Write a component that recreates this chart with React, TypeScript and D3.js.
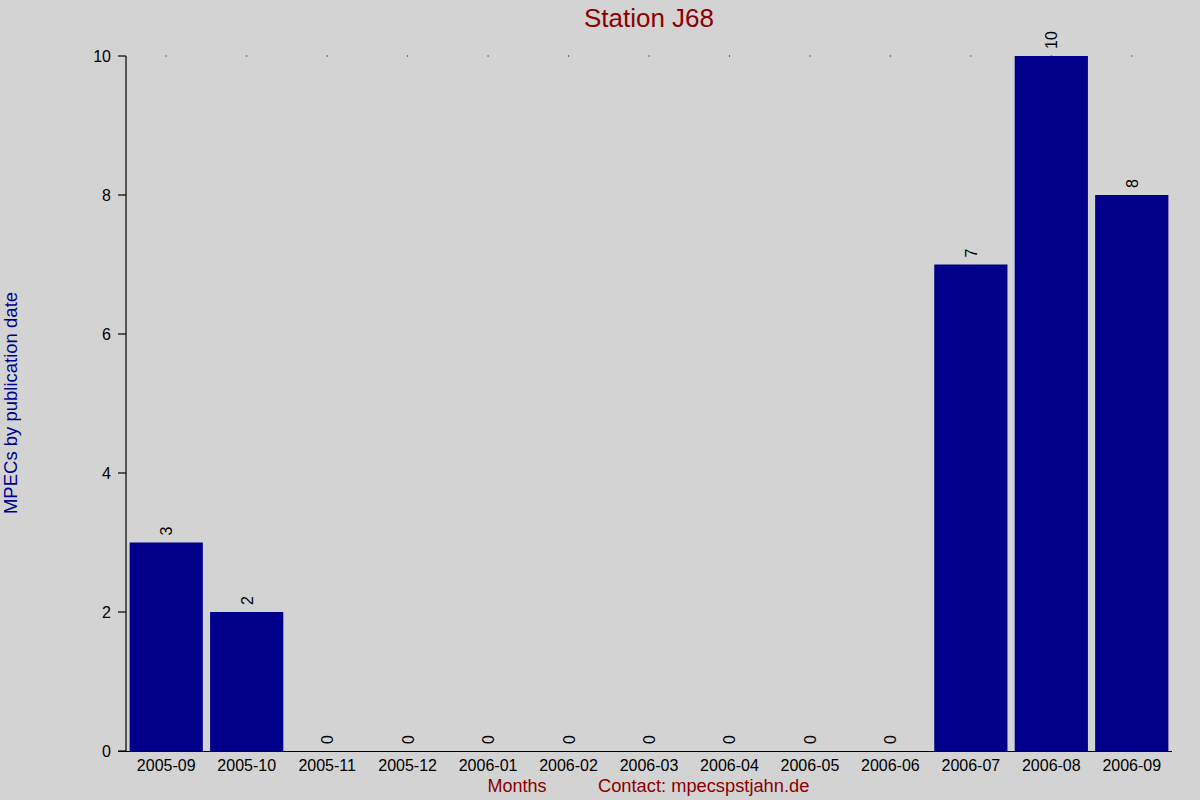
import React from 'react';
import * as d3 from 'd3';

const months = [
  '2005-09', '2005-10', '2005-11', '2005-12', '2006-01', '2006-02', '2006-03',
  '2006-04', '2006-05', '2006-06', '2006-07', '2006-08', '2006-09',
];
const mpecCounts = [3, 2, 0, 0, 0, 0, 0, 0, 0, 0, 7, 10, 8];
const yTicks = [0, 2, 4, 6, 8, 10];

const width = 1200;
const height = 800;
const margin = { top: 56, right: 28, bottom: 49, left: 126 };
const font = 'Liberation Sans, Arial, sans-serif';

const App: React.FC = () => {
  const innerWidth = width - margin.left - margin.right;
  const innerHeight = height - margin.top - margin.bottom;

  const x = d3.scaleBand<string>()
    .domain(months)
    .range([0, innerWidth])
    .paddingInner(0.09)
    .paddingOuter(0.045);
  const band = d3.scaleBand<string>().domain(months).range([0, innerWidth]);

  const y = d3.scaleLinear().domain([0, 10]).range([innerHeight, 0]);

  return (
    <svg
      width={width}
      height={height}
      style={{ position: 'absolute', left: 0, top: 0, background: '#d3d3d3', fontFamily: font }}
    >
      <rect width={width} height={height} fill="#d3d3d3" />
      <text x={649} y={27} textAnchor="middle" fontSize={26} fill="#8b0000">Station J68</text>

      <g transform={`translate(${margin.left},${margin.top})`}>
        {/* top dots */}
        {months.map(m => (
          <rect
            key={'dot' + m}
            x={(band(m) || 0) + band.bandwidth() / 2 - 0.5}
            y={y(10) - 0.5}
            width={1}
            height={1}
            fill="#000"
          />
        ))}

        {/* bars */}
        {months.map((m, i) => (
          <rect
            key={m}
            x={x(m)}
            y={y(mpecCounts[i])}
            width={x.bandwidth()}
            height={innerHeight - y(mpecCounts[i])}
            fill="#00008b"
          />
        ))}

        {/* value labels */}
        {months.map((m, i) => {
          const cx = (band(m) || 0) + band.bandwidth() / 2;
          const cy = y(mpecCounts[i]) - 7;
          return (
            <text
              key={'v' + m}
              transform={`translate(${cx + 6},${cy}) rotate(-90)`}
              fontSize={16}
              fill="#000"
            >
              {mpecCounts[i]}
            </text>
          );
        })}

        {/* y axis */}
        <line x1={0} x2={0} y1={y(10)} y2={innerHeight} stroke="#000" strokeWidth={1.2} />
        {yTicks.map(t => (
          <g key={t}>
            <line x1={-8} x2={0} y1={y(t)} y2={y(t)} stroke="#000" strokeWidth={1.2} />
            <text x={-15} y={y(t) + 6} textAnchor="end" fontSize={16} fill="#000">{t}</text>
          </g>
        ))}

        {/* x axis */}
        <line x1={-8} x2={innerWidth} y1={innerHeight + 0.5} y2={innerHeight + 0.5} stroke="#000" strokeWidth={1.2} />
        {months.map(m => (
          <text
            key={'l' + m}
            x={(band(m) || 0) + band.bandwidth() / 2}
            y={innerHeight + 20}
            textAnchor="middle"
            fontSize={16}
            fill="#000"
          >
            {m}
          </text>
        ))}
      </g>

      <text
        transform={`translate(17,403) rotate(-90)`}
        textAnchor="middle"
        fontSize={18.5}
        fill="#00008b"
      >
        MPECs by publication date
      </text>
      <text x={517} y={792} textAnchor="middle" fontSize={18} fill="#8b0000">Months</text>
      <text x={598} y={792} fontSize={18.3} fill="#8b0000">Contact: mpecspstjahn.de</text>
    </svg>
  );
};

export default App;
